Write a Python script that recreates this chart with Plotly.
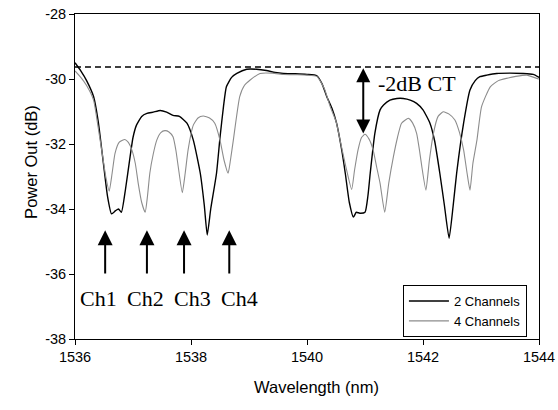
import plotly.graph_objects as go

# ---- data ----
wl_2ch = [1536.00, 1536.10, 1536.20, 1536.32, 1536.40, 1536.49, 1536.56, 1536.63, 1536.70, 1536.75,
          1536.80, 1536.87, 1536.95, 1537.00, 1537.06, 1537.15, 1537.24, 1537.35, 1537.47, 1537.58,
          1537.69, 1537.80, 1537.93, 1538.04, 1538.16, 1538.23, 1538.28, 1538.34, 1538.44, 1538.50,
          1538.56, 1538.61, 1538.70, 1538.79, 1538.96, 1539.13, 1539.30, 1539.45, 1539.59, 1539.80,
          1540.00, 1540.17, 1540.26, 1540.34, 1540.43, 1540.51, 1540.60, 1540.66, 1540.73, 1540.80,
          1540.85, 1540.91, 1541.00, 1541.05, 1541.09, 1541.17, 1541.26, 1541.32, 1541.43, 1541.55,
          1541.66, 1541.78, 1541.89, 1542.00, 1542.12, 1542.20, 1542.29, 1542.37, 1542.45, 1542.52,
          1542.58, 1542.70, 1542.81, 1542.90, 1542.98, 1543.10, 1543.27, 1543.50, 1543.73, 1543.90,
          1544.00]
pw_2ch = [-29.50, -29.75, -30.05, -30.54, -31.30, -32.60, -33.60, -34.15, -34.05, -34.00,
          -34.10, -33.40, -32.39, -31.80, -31.42, -31.15, -31.06, -31.02, -30.97, -31.02,
          -31.12, -31.15, -31.36, -31.88, -32.90, -33.90, -34.80, -34.00, -32.90, -31.80,
          -30.85, -30.24, -29.95, -29.83, -29.70, -29.70, -29.74, -29.80, -29.83, -29.84,
          -29.86, -29.90, -30.15, -30.54, -30.90, -31.36, -32.20, -32.90, -33.80, -34.25,
          -34.10, -34.13, -34.10, -33.60, -32.90, -31.67, -30.95, -30.80, -30.65, -30.60,
          -30.60, -30.65, -30.75, -30.95, -31.36, -31.90, -32.90, -33.90, -34.90, -33.90,
          -32.90, -31.36, -30.34, -30.05, -29.93, -29.88, -29.83, -29.82, -29.83, -29.86,
          -29.95]

wl_4ch = [1536.00, 1536.10, 1536.20, 1536.32, 1536.40, 1536.46, 1536.53, 1536.59, 1536.64, 1536.69,
          1536.76, 1536.86, 1536.92, 1536.98, 1537.04, 1537.09, 1537.15, 1537.21, 1537.25, 1537.29,
          1537.35, 1537.41, 1537.48, 1537.55, 1537.62, 1537.69, 1537.74, 1537.78, 1537.85, 1537.90,
          1537.95, 1538.04, 1538.12, 1538.21, 1538.32, 1538.41, 1538.50, 1538.57, 1538.64, 1538.68,
          1538.73, 1538.84, 1538.92, 1539.02, 1539.19, 1539.40, 1539.60, 1539.80, 1540.00, 1540.17,
          1540.30, 1540.40, 1540.50, 1540.57, 1540.67, 1540.77, 1540.82, 1540.88, 1540.94, 1541.00,
          1541.07, 1541.14, 1541.20, 1541.26, 1541.34, 1541.41, 1541.49, 1541.56, 1541.63, 1541.75,
          1541.82, 1541.89, 1541.94, 1541.98, 1542.05, 1542.11, 1542.18, 1542.26, 1542.35, 1542.45,
          1542.55, 1542.63, 1542.70, 1542.76, 1542.81, 1542.86, 1542.93, 1543.01, 1543.16, 1543.30,
          1543.44, 1543.60, 1543.79, 1543.96, 1544.00]
pw_4ch = [-29.75, -29.95, -30.20, -30.65, -31.50, -32.18, -33.00, -33.45, -32.90, -32.29,
          -31.95, -31.86, -31.95, -32.18, -32.60, -33.21, -33.80, -34.10, -33.60, -32.90,
          -32.30, -31.88, -31.65, -31.59, -31.63, -31.78, -32.20, -32.70, -33.50, -32.90,
          -32.18, -31.42, -31.20, -31.14, -31.20, -31.36, -31.88, -32.50, -32.90, -32.50,
          -31.88, -30.54, -30.20, -30.03, -29.83, -29.82, -29.86, -29.87, -29.88, -29.92,
          -30.30, -30.85, -31.30, -31.88, -32.70, -33.40, -32.80, -32.18, -31.80, -31.70,
          -31.85, -32.18, -32.70, -33.21, -34.10, -33.20, -32.39, -31.80, -31.36, -31.21,
          -31.35, -31.67, -32.20, -32.70, -33.42, -32.50, -31.67, -31.15, -31.01, -31.08,
          -31.26, -31.65, -32.18, -32.90, -33.42, -32.60, -31.88, -30.85, -30.24, -30.05,
          -29.98, -29.92, -29.88, -29.98, -30.00]

ref_level = -29.63            # dashed reference line (dB)
ct_x, ct_top, ct_bottom = 1540.97, -29.67, -31.72
ct_label = "-2dB CT"
ct_label_pos = (1541.90, -30.15)

ch_labels = ["Ch1", "Ch2", "Ch3", "Ch4"]
ch_arrow_x = [1536.52, 1537.24, 1537.88, 1538.66]
ch_arrow_tip, ch_arrow_tail = -34.65, -36.03
ch_label_x = [1536.40, 1537.22, 1538.02, 1538.83]
ch_label_y = -36.74

x_ticks = [1536, 1538, 1540, 1542, 1544]
y_ticks = [-38, -36, -34, -32, -30, -28]
y_tick_text = ["-38", "-36", "-34", "-32", "-30", "-28"]

x_title = "Wavelength (nm)"
y_title = "Power Out (dB)"

# ---- figure ----
fig = go.Figure()
fig.add_trace(go.Scatter(x=wl_2ch, y=pw_2ch, mode="lines", name="2 Channels",
                         line=dict(color="black", width=1.4, shape="spline", smoothing=0.5)))
fig.add_trace(go.Scatter(x=wl_4ch, y=pw_4ch, mode="lines", name="4 Channels",
                         line=dict(color="#8c8c8c", width=1.1, shape="spline", smoothing=0.5)))

fig.add_shape(type="line", x0=x_ticks[0], x1=x_ticks[-1], y0=ref_level, y1=ref_level,
              xref="x", yref="y", line=dict(color="black", width=1.6, dash="6px,4px"))

serif = "Liberation Serif, Times New Roman, serif"
sans = "Liberation Sans, Arial, sans-serif"
annotations = []
for xa, lab, xl in zip(ch_arrow_x, ch_labels, ch_label_x):
    annotations.append(dict(x=xa, y=ch_arrow_tip, ax=xa, ay=ch_arrow_tail, xref="x", yref="y",
                            axref="x", ayref="y", text="", showarrow=True, arrowhead=2,
                            arrowsize=1.5, arrowwidth=2, arrowcolor="black"))
    annotations.append(dict(x=xl, y=ch_label_y, xref="x", yref="y", text=lab, showarrow=False,
                            font=dict(family=serif, size=22, color="black")))
annotations.append(dict(x=ct_x, y=ct_top, ax=ct_x, ay=ct_bottom, xref="x", yref="y",
                        axref="x", ayref="y", text="", showarrow=True, arrowside="end+start",
                        arrowhead=2, startarrowhead=2, arrowsize=1.4, startarrowsize=1.4,
                        arrowwidth=2, arrowcolor="black"))
annotations.append(dict(x=ct_label_pos[0], y=ct_label_pos[1], xref="x", yref="y", text=ct_label,
                        showarrow=False, font=dict(family=serif, size=22, color="black")))
# axis titles placed in pixel offsets from the plot area
annotations.append(dict(x=0.52, y=0, xref="paper", yref="paper", yshift=-59, text=x_title,
                        showarrow=False, font=dict(family=sans, size=16.5, color="black")))
annotations.append(dict(x=0, y=0.545, xref="paper", yref="paper", xshift=-55, text=y_title,
                        textangle=-90, showarrow=False,
                        font=dict(family=sans, size=16.5, color="black")))

fig.update_layout(
    width=558, height=410,
    margin=dict(l=75, r=19, t=14, b=71),
    plot_bgcolor="white", paper_bgcolor="white",
    font=dict(family=sans, color="black"),
    annotations=annotations,
    showlegend=True,
    legend=dict(x=0.974, y=0.006, xanchor="right", yanchor="bottom",
                bgcolor="white", bordercolor="black", borderwidth=1,
                font=dict(family=sans, size=13, color="black"),
                itemwidth=40, tracegroupgap=0),
    xaxis=dict(range=[1536, 1544], tickvals=x_ticks, ticks="outside", ticklen=5,
               tickcolor="black", showline=True, linecolor="black", linewidth=1, mirror=True,
               showgrid=False, zeroline=False, tickfont=dict(size=14.5), automargin=False,
               ticklabeloverflow="allow"),
    yaxis=dict(range=[-38, -28], tickvals=y_ticks, ticktext=y_tick_text, ticks="outside",
               ticklen=5, tickcolor="black", showline=True, linecolor="black", linewidth=1,
               mirror=True, showgrid=False, zeroline=False, tickfont=dict(size=14.5),
               automargin=False, ticklabeloverflow="allow"),
)

# remove the default page margin so the 558x410 figure fills the window exactly
fig.write_html("out.html", config={"displayModeBar": False},
               post_script="document.body.style.margin='0';document.body.style.overflow='hidden';")
